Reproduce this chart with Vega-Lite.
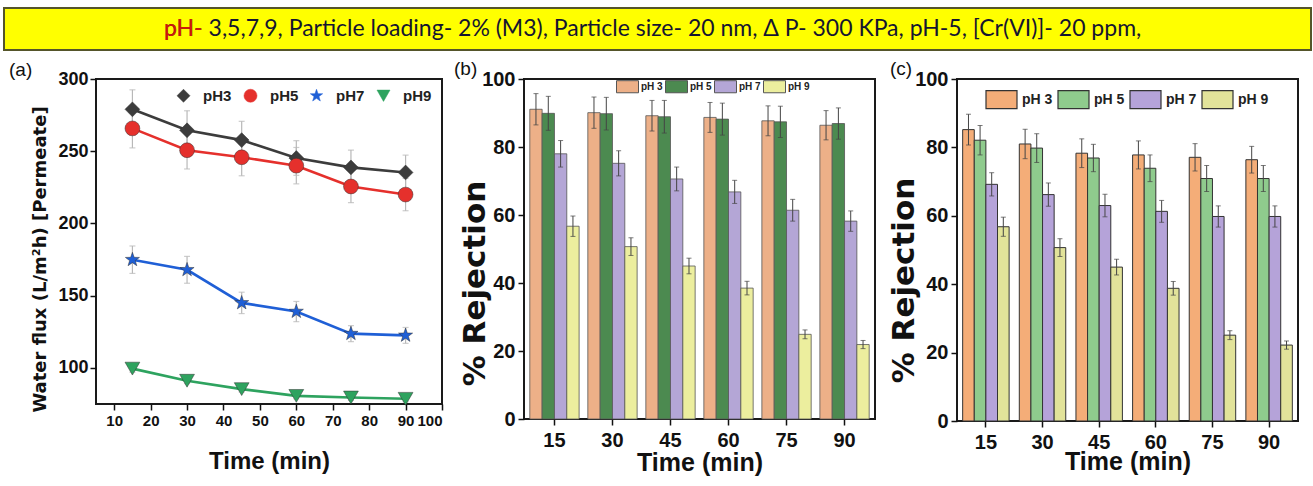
{
  "$schema": "https://vega.github.io/schema/vega-lite/v6.json",
  "padding": {"left": 3, "top": 7, "right": 2, "bottom": 2},
  "background": "white",
  "datasets": {
    "flux": [
      {"t": 15, "ph": "pH3", "v": 279, "e": 13.5}, {"t": 30, "ph": "pH3", "v": 264.5, "e": 13.5}, {"t": 45, "ph": "pH3", "v": 257.7, "e": 13}, {"t": 60, "ph": "pH3", "v": 245.3, "e": 12}, {"t": 75, "ph": "pH3", "v": 238.8, "e": 12}, {"t": 90, "ph": "pH3", "v": 235.3, "e": 12},
      {"t": 15, "ph": "pH5", "v": 265.8, "e": 13.5}, {"t": 30, "ph": "pH5", "v": 250.7, "e": 13}, {"t": 45, "ph": "pH5", "v": 245.8, "e": 12.8}, {"t": 60, "ph": "pH5", "v": 240, "e": 12.6}, {"t": 75, "ph": "pH5", "v": 225.6, "e": 11.2}, {"t": 90, "ph": "pH5", "v": 220, "e": 11.2},
      {"t": 15, "ph": "pH7", "v": 174.9, "e": 9.5}, {"t": 30, "ph": "pH7", "v": 167.9, "e": 9.3}, {"t": 45, "ph": "pH7", "v": 145, "e": 7.4}, {"t": 60, "ph": "pH7", "v": 139, "e": 7}, {"t": 75, "ph": "pH7", "v": 123.7, "e": 5.5}, {"t": 90, "ph": "pH7", "v": 122.5, "e": 5.5},
      {"t": 15, "ph": "pH9", "v": 99.5, "e": 2.5}, {"t": 30, "ph": "pH9", "v": 91.1, "e": 2}, {"t": 45, "ph": "pH9", "v": 85.3, "e": 2}, {"t": 60, "ph": "pH9", "v": 80.6, "e": 2}, {"t": 75, "ph": "pH9", "v": 79.5, "e": 2}, {"t": 90, "ph": "pH9", "v": 78.6, "e": 2}
    ],
    "rejB": [
      {"t": 15, "ph": "pH 3", "v": 91.1, "e": 4.6}, {"t": 30, "ph": "pH 3", "v": 90.1, "e": 4.6}, {"t": 45, "ph": "pH 3", "v": 89.2, "e": 4.5}, {"t": 60, "ph": "pH 3", "v": 88.7, "e": 4.4}, {"t": 75, "ph": "pH 3", "v": 87.7, "e": 4.4}, {"t": 90, "ph": "pH 3", "v": 86.4, "e": 4.3},
      {"t": 15, "ph": "pH 5", "v": 89.9, "e": 5}, {"t": 30, "ph": "pH 5", "v": 89.8, "e": 4.8}, {"t": 45, "ph": "pH 5", "v": 88.9, "e": 4.8}, {"t": 60, "ph": "pH 5", "v": 88.2, "e": 4.7}, {"t": 75, "ph": "pH 5", "v": 87.4, "e": 4.6}, {"t": 90, "ph": "pH 5", "v": 86.9, "e": 4.6},
      {"t": 15, "ph": "pH 7", "v": 78, "e": 3.9}, {"t": 30, "ph": "pH 7", "v": 75.2, "e": 3.7}, {"t": 45, "ph": "pH 7", "v": 70.6, "e": 3.5}, {"t": 60, "ph": "pH 7", "v": 66.8, "e": 3.4}, {"t": 75, "ph": "pH 7", "v": 61.4, "e": 3.2}, {"t": 90, "ph": "pH 7", "v": 58.2, "e": 3},
      {"t": 15, "ph": "pH 9", "v": 56.7, "e": 3}, {"t": 30, "ph": "pH 9", "v": 50.7, "e": 2.6}, {"t": 45, "ph": "pH 9", "v": 45, "e": 2.3}, {"t": 60, "ph": "pH 9", "v": 38.5, "e": 2}, {"t": 75, "ph": "pH 9", "v": 24.9, "e": 1.3}, {"t": 90, "ph": "pH 9", "v": 21.9, "e": 1.2}
    ],
    "rejC": [
      {"t": 15, "ph": "pH 3", "v": 85.2, "e": 4.5}, {"t": 30, "ph": "pH 3", "v": 81, "e": 4.3}, {"t": 45, "ph": "pH 3", "v": 78.3, "e": 4.2}, {"t": 60, "ph": "pH 3", "v": 77.8, "e": 4.1}, {"t": 75, "ph": "pH 3", "v": 77.1, "e": 4}, {"t": 90, "ph": "pH 3", "v": 76.4, "e": 3.9},
      {"t": 15, "ph": "pH 5", "v": 82.1, "e": 4.3}, {"t": 30, "ph": "pH 5", "v": 79.8, "e": 4.2}, {"t": 45, "ph": "pH 5", "v": 76.9, "e": 4}, {"t": 60, "ph": "pH 5", "v": 73.9, "e": 3.9}, {"t": 75, "ph": "pH 5", "v": 70.9, "e": 3.8}, {"t": 90, "ph": "pH 5", "v": 70.9, "e": 3.8},
      {"t": 15, "ph": "pH 7", "v": 69.2, "e": 3.4}, {"t": 30, "ph": "pH 7", "v": 66.2, "e": 3.4}, {"t": 45, "ph": "pH 7", "v": 63, "e": 3.3}, {"t": 60, "ph": "pH 7", "v": 61.3, "e": 3.2}, {"t": 75, "ph": "pH 7", "v": 59.8, "e": 3.1}, {"t": 90, "ph": "pH 7", "v": 59.8, "e": 3.1},
      {"t": 15, "ph": "pH 9", "v": 56.8, "e": 2.8}, {"t": 30, "ph": "pH 9", "v": 50.7, "e": 2.6}, {"t": 45, "ph": "pH 9", "v": 45, "e": 2.3}, {"t": 60, "ph": "pH 9", "v": 38.8, "e": 2}, {"t": 75, "ph": "pH 9", "v": 25.1, "e": 1.3}, {"t": 90, "ph": "pH 9", "v": 22.2, "e": 1.2}
    ]
  },
  "spacing": 8,
  "vconcat": [
    {
      "width": 1307,
      "height": 42,
      "view": {"fill": "#FFFF00", "stroke": "#55552a", "strokeWidth": 2},
      "layer": [
        {
          "data": {"values": [{"s": "pH- 3,5,7,9, Particle loading- 2% (M3), Particle size- 20 nm, Δ P- 300 KPa, pH-5,  [Cr(VI)]- 20 ppm,"}]},
          "mark": {"type": "text", "align": "left", "baseline": "middle", "x": 160, "y": 21, "font": "Lato", "fontSize": 23, "color": "#151530"},
          "encoding": {"text": {"field": "s"}}
        },
        {
          "data": {"values": [{"s": "pH-"}]},
          "mark": {"type": "text", "align": "left", "baseline": "middle", "x": 160, "y": 21, "font": "Lato", "fontSize": 23, "color": "#d01a08"},
          "encoding": {"text": {"field": "s"}}
        }
      ]
    },
    {
      "spacing": 82,
      "bounds": "flush",
      "resolve": {"scale": {"color": "independent", "shape": "independent", "x": "independent", "y": "independent", "xOffset": "independent"}, "legend": {"color": "independent", "shape": "independent"}},
      "hconcat": [
        {
          "width": 10,
          "height": 10,
          "view": {"stroke": null, "fill": null},
          "data": {"values": []},
          "mark": {"type": "point", "opacity": 0},
          "encoding": {}
        },
        {
          "width": 346,
          "height": 325,
          "view": {"stroke": "#1a1a1a", "strokeWidth": 2},
          "title": {"text": "(a)", "anchor": "start", "frame": "group", "dx": -87, "offset": -10, "fontSize": 19, "font": "Liberation Sans", "fontWeight": "normal", "color": "#111"},
          "data": {"name": "flux"},
          "encoding": {
            "x": {"field": "t", "type": "quantitative", "scale": {"domain": [5, 100], "nice": false}, "axis": {"values": [10, 20, 30, 40, 50, 60, 70, 80, 90, 100], "labelOverlap": false, "labelFontSize": 15, "labelPadding": 3, "title": "Time (min)", "titleFontSize": 24, "titleBaseline": "middle", "titleY": 57}},
            "y": {"field": "v", "type": "quantitative", "scale": {"domain": [75, 300], "nice": false, "zero": false}, "axis": {"values": [100, 150, 200, 250, 300], "labelFontSize": 18, "labelPadding": 2, "title": "Water flux (L/m²h) [Permeate]", "titleFont": "DejaVu Sans", "titleFontSize": 18, "titleBaseline": "middle", "titleAlign": "center", "titleX": -56, "titleY": 180}}
          },
          "layer": [
            {
              "mark": {"type": "errorbar", "ticks": {"size": 6}, "color": "#b8b8b8", "thickness": 1.2},
              "encoding": {"yError": {"field": "e"}, "detail": {"field": "ph"}}
            },
            {
              "mark": {"type": "line", "strokeWidth": 2.6},
              "encoding": {
                "color": {"field": "ph", "type": "nominal", "scale": {"domain": ["pH3", "pH5", "pH7", "pH9"], "range": ["#3c3c3c", "#e5302c", "#1f5fd6", "#2ea35f"]}, "legend": {"orient": "none", "legendX": 80, "legendY": 9, "direction": "horizontal", "title": null, "labelFont": "Liberation Sans", "labelFontWeight": "bold", "labelFontSize": 15, "labelColor": "#222", "symbolSize": 170, "columnPadding": 10, "labelOffset": 12, "symbolStrokeWidth": 0.5}}
              }
            },
            {
              "mark": {"type": "point", "filled": true, "size": 220, "opacity": 1, "stroke": "#333", "strokeWidth": 0.5},
              "encoding": {
                "color": {"field": "ph", "type": "nominal", "scale": {"domain": ["pH3", "pH5", "pH7", "pH9"], "range": ["#3c3c3c", "#e5302c", "#1f5fd6", "#2ea35f"]}, "legend": {"orient": "none", "legendX": 80, "legendY": 9, "direction": "horizontal", "title": null, "labelFont": "Liberation Sans", "labelFontWeight": "bold", "labelFontSize": 15, "labelColor": "#222", "symbolSize": 170, "columnPadding": 10, "labelOffset": 12, "symbolStrokeWidth": 0.5}},
                "shape": {"field": "ph", "type": "nominal", "scale": {"domain": ["pH3", "pH5", "pH7", "pH9"], "range": ["diamond", "circle", "M0,-1L0.235,-0.324L0.951,-0.309L0.38,0.124L0.588,0.809L0,0.4L-0.588,0.809L-0.38,0.124L-0.951,-0.309L-0.235,-0.324Z", "triangle-down"]}, "legend": {"orient": "none", "legendX": 80, "legendY": 9, "direction": "horizontal", "title": null, "labelFont": "Liberation Sans", "labelFontWeight": "bold", "labelFontSize": 15, "labelColor": "#222", "symbolSize": 170, "columnPadding": 10, "labelOffset": 12, "symbolStrokeWidth": 0.5}}
              }
            }
          ]
        },
        {
          "width": 351,
          "height": 340,
          "view": {"stroke": "#1a1a1a", "strokeWidth": 2},
          "title": {"text": "(b)", "anchor": "start", "frame": "group", "dx": -70, "offset": -10, "fontSize": 19, "font": "Liberation Sans", "fontWeight": "normal", "color": "#111"},
          "data": {"name": "rejB"},
          "encoding": {
            "x": {"field": "t", "type": "ordinal", "scale": {"paddingInner": 0.15, "paddingOuter": 0.1}, "axis": {"labelAngle": 0, "labelFontSize": 20, "labelPadding": 5, "title": "Time (min)", "titleFontSize": 25, "titleBaseline": "middle", "titleY": 43}},
            "xOffset": {"field": "ph", "type": "nominal"},
            "y": {"field": "v", "type": "quantitative", "scale": {"domain": [0, 100], "nice": false}, "axis": {"values": [0, 20, 40, 60, 80, 100], "labelFontSize": 20, "labelPadding": 3, "title": "% Rejection", "titleFont": "DejaVu Sans", "titleFontSize": 31, "titleBaseline": "middle", "titleAlign": "center", "titleX": -49, "titleY": 204}}
          },
          "layer": [
            {
              "mark": {"type": "bar", "stroke": "#555", "strokeWidth": 0.8},
              "encoding": {
                "color": {"field": "ph", "type": "nominal", "scale": {"domain": ["pH 3", "pH 5", "pH 7", "pH 9"], "range": ["#EDB088", "#4C8A50", "#B4A6D6", "#ECEE9E"]}, "legend": {"orient": "none", "legendX": 92, "legendY": -4, "direction": "horizontal", "title": null, "labelFont": "Liberation Sans", "labelFontWeight": "bold", "labelFontSize": 10, "labelColor": "#222", "symbolType": "M-1,-0.55H1V0.55H-1Z", "symbolSize": 484, "symbolStrokeColor": "#555", "symbolStrokeWidth": 1, "columnPadding": 0, "labelOffset": 2}}
              }
            },
            {
              "mark": {"type": "errorbar", "ticks": {"size": 5}, "color": "#444", "thickness": 1},
              "encoding": {"yError": {"field": "e"}}
            }
          ]
        },
        {
          "width": 341,
          "height": 342,
          "view": {"stroke": "#1a1a1a", "strokeWidth": 2},
          "title": {"text": "(c)", "anchor": "start", "frame": "group", "dx": -67, "offset": -10, "fontSize": 19, "font": "Liberation Sans", "fontWeight": "normal", "color": "#111"},
          "data": {"name": "rejC"},
          "encoding": {
            "x": {"field": "t", "type": "ordinal", "scale": {"paddingInner": 0.18, "paddingOuter": 0.1}, "axis": {"labelAngle": 0, "labelFontSize": 20, "labelPadding": 5, "title": "Time (min)", "titleFontSize": 25, "titleBaseline": "middle", "titleY": 40}},
            "xOffset": {"field": "ph", "type": "nominal"},
            "y": {"field": "v", "type": "quantitative", "scale": {"domain": [0, 100], "nice": false}, "axis": {"values": [0, 20, 40, 60, 80, 100], "labelFontSize": 20, "labelPadding": 3, "title": "% Rejection", "titleFont": "DejaVu Sans", "titleFontSize": 31, "titleBaseline": "middle", "titleAlign": "center", "titleX": -53, "titleY": 201}}
          },
          "layer": [
            {
              "mark": {"type": "bar", "stroke": "#333", "strokeWidth": 1},
              "encoding": {
                "color": {"field": "ph", "type": "nominal", "scale": {"domain": ["pH 3", "pH 5", "pH 7", "pH 9"], "range": ["#F4AD78", "#8FCB8D", "#B5A3D9", "#E2E39A"]}, "legend": {"orient": "none", "legendX": 28, "legendY": 4, "direction": "horizontal", "title": null, "labelFont": "Liberation Sans", "labelFontWeight": "bold", "labelFontSize": 14, "labelColor": "#222", "symbolType": "M-1,-0.58H1V0.58H-1Z", "symbolSize": 961, "symbolStrokeColor": "#333", "symbolStrokeWidth": 1.2, "columnPadding": 2, "labelOffset": 4}}
              }
            },
            {
              "mark": {"type": "errorbar", "ticks": {"size": 5}, "color": "#444", "thickness": 1},
              "encoding": {"yError": {"field": "e"}}
            }
          ]
        }
      ]
    }
  ],
  "config": {
    "axis": {"domain": false, "grid": false, "tickColor": "#111", "tickSize": 6, "tickWidth": 1.5, "labelFont": "Liberation Sans", "labelFontWeight": "bold", "labelColor": "#111", "titleFont": "Liberation Sans", "titleFontWeight": "bold", "titleColor": "#111"},
    "legend": {"symbolOpacity": 1}
  }
}
